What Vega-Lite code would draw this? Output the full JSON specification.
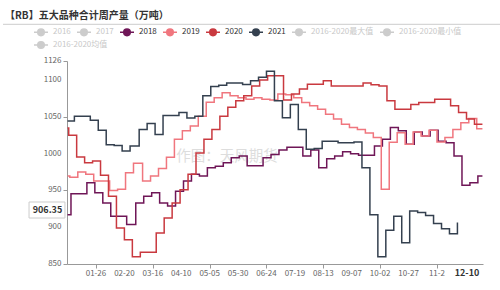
{
  "$schema": "https://vega.github.io/schema/vega-lite/v6.json",
  "width": 416,
  "height": 203,
  "autosize": {"type": "none"},
  "padding": {"left": 67, "top": 61, "right": 17, "bottom": 26},
  "background": "white",
  "title": {
    "text": "【RB】五大品种合计周产量（万吨）",
    "anchor": "start",
    "frame": "group",
    "dx": -62,
    "dy": -2.5,
    "offset": 0,
    "fontSize": 10,
    "fontWeight": "bold",
    "color": "#333",
    "font": "Noto Sans CJK SC"
  },
  "config": {
    "view": {"stroke": null},
    "font": "Noto Sans CJK SC",
    "axis": {"labelOverlap": false}
  },
  "resolve": {"scale": {"color": "independent"}},
  "datasets": {
    "prod": [
      {"s":"2018","d":0,"v":917},{"s":"2018","d":3,"v":945.5},{"s":"2018","d":10,"v":945.5},{"s":"2018","d":17,"v":960.5},{"s":"2018","d":24,"v":947},{"s":"2018","d":31,"v":933},{"s":"2018","d":38,"v":915},{"s":"2018","d":45,"v":915},{"s":"2018","d":52,"v":903.6},{"s":"2018","d":60,"v":933},{"s":"2018","d":67,"v":942},{"s":"2018","d":74,"v":947},{"s":"2018","d":81,"v":933},{"s":"2018","d":88,"v":929},{"s":"2018","d":95,"v":949},{"s":"2018","d":102,"v":962.7},{"s":"2018","d":109,"v":972},{"s":"2018","d":116,"v":969.5},{"s":"2018","d":123,"v":981},{"s":"2018","d":130,"v":983},{"s":"2018","d":137,"v":987.7},{"s":"2018","d":144,"v":994.5},{"s":"2018","d":151,"v":997},{"s":"2018","d":158,"v":983.5},{"s":"2018","d":165,"v":983.5},{"s":"2018","d":172,"v":994.5},{"s":"2018","d":179,"v":999},{"s":"2018","d":186,"v":1005},{"s":"2018","d":193,"v":1008.6},{"s":"2018","d":200,"v":1008.6},{"s":"2018","d":207,"v":997},{"s":"2018","d":214,"v":1005},{"s":"2018","d":221,"v":981},{"s":"2018","d":228,"v":993},{"s":"2018","d":235,"v":997},{"s":"2018","d":242,"v":1002.6},{"s":"2018","d":249,"v":1000},{"s":"2018","d":256,"v":998},{"s":"2018","d":263,"v":998},{"s":"2018","d":270,"v":1010.5},{"s":"2018","d":277,"v":1019.5},{"s":"2018","d":284,"v":1035.5},{"s":"2018","d":291,"v":1031},{"s":"2018","d":298,"v":1012.7},{"s":"2018","d":305,"v":1029.5},{"s":"2018","d":312,"v":1024},{"s":"2018","d":319,"v":1032},{"s":"2018","d":326,"v":1017},{"s":"2018","d":333,"v":1015},{"s":"2018","d":340,"v":997},{"s":"2018","d":347,"v":957},{"s":"2018","d":354,"v":960.5},{"s":"2018","d":361,"v":969.5},{"s":"2018","d":365,"v":969.5},
      {"s":"2019","d":0,"v":969.5},{"s":"2019","d":2,"v":968},{"s":"2019","d":9,"v":975},{"s":"2019","d":16,"v":972},{"s":"2019","d":23,"v":963},{"s":"2019","d":30,"v":963},{"s":"2019","d":37,"v":950},{"s":"2019","d":44,"v":951.8},{"s":"2019","d":51,"v":974},{"s":"2019","d":58,"v":987},{"s":"2019","d":66,"v":963},{"s":"2019","d":73,"v":969.5},{"s":"2019","d":80,"v":980},{"s":"2019","d":87,"v":995},{"s":"2019","d":94,"v":1019.5},{"s":"2019","d":101,"v":1031},{"s":"2019","d":108,"v":1037.7},{"s":"2019","d":115,"v":1051},{"s":"2019","d":122,"v":1070},{"s":"2019","d":129,"v":1076},{"s":"2019","d":136,"v":1083},{"s":"2019","d":143,"v":1078.6},{"s":"2019","d":150,"v":1076},{"s":"2019","d":157,"v":1074},{"s":"2019","d":164,"v":1076},{"s":"2019","d":171,"v":1074},{"s":"2019","d":178,"v":1073},{"s":"2019","d":185,"v":1081},{"s":"2019","d":192,"v":1080},{"s":"2019","d":199,"v":1076},{"s":"2019","d":206,"v":1069.5},{"s":"2019","d":213,"v":1065},{"s":"2019","d":220,"v":1060.5},{"s":"2019","d":227,"v":1053.6},{"s":"2019","d":234,"v":1047},{"s":"2019","d":241,"v":1040},{"s":"2019","d":248,"v":1035.5},{"s":"2019","d":255,"v":1033},{"s":"2019","d":262,"v":1028},{"s":"2019","d":269,"v":1022},{"s":"2019","d":276,"v":951.8},{"s":"2019","d":283,"v":1015.6},{"s":"2019","d":290,"v":1028.6},{"s":"2019","d":297,"v":1012.7},{"s":"2019","d":304,"v":1029.5},{"s":"2019","d":311,"v":1024},{"s":"2019","d":318,"v":1032},{"s":"2019","d":325,"v":1016},{"s":"2019","d":332,"v":1022},{"s":"2019","d":339,"v":1033},{"s":"2019","d":346,"v":1042},{"s":"2019","d":353,"v":1047.7},{"s":"2019","d":360,"v":1034},{"s":"2019","d":365,"v":1034},
      {"s":"2020","d":0,"v":1035},{"s":"2020","d":1,"v":1025},{"s":"2020","d":8,"v":995.5},{"s":"2020","d":15,"v":987.7},{"s":"2020","d":22,"v":990},{"s":"2020","d":29,"v":970.5},{"s":"2020","d":36,"v":942},{"s":"2020","d":43,"v":899},{"s":"2020","d":50,"v":883},{"s":"2020","d":57,"v":860},{"s":"2020","d":64,"v":866},{"s":"2020","d":71,"v":866},{"s":"2020","d":78,"v":892},{"s":"2020","d":85,"v":912.7},{"s":"2020","d":92,"v":933},{"s":"2020","d":99,"v":951},{"s":"2020","d":106,"v":972},{"s":"2020","d":113,"v":1001},{"s":"2020","d":120,"v":1019.5},{"s":"2020","d":127,"v":1033},{"s":"2020","d":134,"v":1051},{"s":"2020","d":141,"v":1063},{"s":"2020","d":148,"v":1072},{"s":"2020","d":155,"v":1078.6},{"s":"2020","d":162,"v":1092},{"s":"2020","d":169,"v":1100},{"s":"2020","d":176,"v":1106},{"s":"2020","d":183,"v":1106},{"s":"2020","d":190,"v":1073},{"s":"2020","d":197,"v":1081},{"s":"2020","d":204,"v":1088},{"s":"2020","d":211,"v":1094.5},{"s":"2020","d":218,"v":1094.5},{"s":"2020","d":225,"v":1099},{"s":"2020","d":232,"v":1092},{"s":"2020","d":239,"v":1092},{"s":"2020","d":246,"v":1092},{"s":"2020","d":253,"v":1092},{"s":"2020","d":260,"v":1096},{"s":"2020","d":267,"v":1093.6},{"s":"2020","d":274,"v":1092},{"s":"2020","d":281,"v":1072},{"s":"2020","d":288,"v":1060.5},{"s":"2020","d":295,"v":1060.5},{"s":"2020","d":302,"v":1067},{"s":"2020","d":309,"v":1069.5},{"s":"2020","d":316,"v":1069.5},{"s":"2020","d":323,"v":1074},{"s":"2020","d":330,"v":1074},{"s":"2020","d":337,"v":1065},{"s":"2020","d":344,"v":1056},{"s":"2020","d":351,"v":1047},{"s":"2020","d":358,"v":1040},{"s":"2020","d":365,"v":1040},
      {"s":"2021","d":0,"v":1044.5},{"s":"2021","d":6,"v":1051},{"s":"2021","d":13,"v":1051},{"s":"2021","d":20,"v":1045.5},{"s":"2021","d":27,"v":1032},{"s":"2021","d":34,"v":1012},{"s":"2021","d":41,"v":1011},{"s":"2021","d":48,"v":1003.6},{"s":"2021","d":55,"v":1010.5},{"s":"2021","d":63,"v":1033},{"s":"2021","d":70,"v":1041},{"s":"2021","d":77,"v":1026},{"s":"2021","d":84,"v":1052},{"s":"2021","d":91,"v":1052},{"s":"2021","d":98,"v":1056},{"s":"2021","d":105,"v":1048.6},{"s":"2021","d":112,"v":1051},{"s":"2021","d":119,"v":1078.6},{"s":"2021","d":126,"v":1091.4},{"s":"2021","d":133,"v":1093},{"s":"2021","d":140,"v":1096},{"s":"2021","d":147,"v":1096},{"s":"2021","d":154,"v":1094},{"s":"2021","d":161,"v":1099},{"s":"2021","d":168,"v":1104},{"s":"2021","d":175,"v":1112},{"s":"2021","d":182,"v":1072},{"s":"2021","d":189,"v":1049},{"s":"2021","d":196,"v":1067},{"s":"2021","d":203,"v":1033},{"s":"2021","d":210,"v":1006},{"s":"2021","d":217,"v":1007},{"s":"2021","d":224,"v":1017},{"s":"2021","d":231,"v":1017},{"s":"2021","d":238,"v":1015},{"s":"2021","d":245,"v":1015},{"s":"2021","d":252,"v":1016},{"s":"2021","d":259,"v":981},{"s":"2021","d":266,"v":917},{"s":"2021","d":273,"v":860},{"s":"2021","d":280,"v":896},{"s":"2021","d":287,"v":915},{"s":"2021","d":294,"v":879},{"s":"2021","d":301,"v":922},{"s":"2021","d":308,"v":920},{"s":"2021","d":315,"v":916},{"s":"2021","d":322,"v":905},{"s":"2021","d":329,"v":898},{"s":"2021","d":336,"v":891},{"s":"2021","d":343,"v":906.35}
    ],
    "xticks": [
      {"d":25,"t":"01-26"},{"d":50,"t":"02-20"},{"d":75,"t":"03-16"},{"d":100,"t":"04-10"},{"d":125,"t":"05-05"},{"d":150,"t":"05-30"},{"d":175,"t":"06-24"},{"d":200,"t":"07-19"},{"d":225,"t":"08-13"},{"d":250,"t":"09-07"},{"d":275,"t":"10-02"},{"d":300,"t":"10-27"},{"d":325,"t":"11-2"}
    ],
    "yticks": [
      {"v":850},{"v":900},{"v":950},{"v":1000},{"v":1050},{"v":1100},{"v":1126}
    ]
  },
  "layer": [
    {
      "data": {"values": [{}]},
      "mark": {"type": "text", "fontSize": 14.5, "color": "#dddddd", "align": "center", "baseline": "middle"},
      "encoding": {
        "x": {"datum": 140.3, "type": "quantitative"},
        "y": {"datum": 994.8, "type": "quantitative"},
        "text": {"value": "作图：天风期货"}
      }
    },
    {
      "data": {"values": [{}]},
      "mark": {"type": "rule", "color": "#cccccc", "strokeWidth": 1},
      "encoding": {
        "x": {"datum": -56.8, "type": "quantitative"},
        "x2": {"datum": 380.5},
        "y": {"datum": 1175.9, "type": "quantitative"}
      }
    },
    {
      "data": {"name": "prod"},
      "mark": {"type": "line", "interpolate": "step-after", "strokeWidth": 1.5},
      "encoding": {
        "x": {
          "field": "d", "type": "quantitative",
          "scale": {"domain": [-0.5, 365.5], "nice": false, "zero": false},
          "axis": {
            "title": null,
            "values": [25, 50, 75, 100, 125, 150, 175, 200, 225, 250, 275, 300, 325],
            "labels": false,
            "grid": false,
            "domainColor": "#999",
            "tickColor": "#999",
            "tickSize": 4
          }
        },
        "y": {
          "field": "v", "type": "quantitative",
          "scale": {"domain": [850, 1126], "nice": false, "zero": false},
          "axis": {
            "title": null,
            "values": [850, 900, 950, 1000, 1050, 1100, 1126],
            "labels": false,
            "domainColor": "#999",
            "tickColor": "#999",
            "tickSize": 4,
            "gridColor": "#eeeeee"
          }
        },
        "color": {
          "field": "s", "type": "nominal",
          "scale": {
            "domain": ["2016", "2017", "2018", "2019", "2020", "2021", "2016-2020最大值", "2016-2020最小值"],
            "range": ["#cccccc", "#cccccc", "#6f1657", "#f0767e", "#c9393f", "#34404f", "#cccccc", "#cccccc"]
          },
          "legend": {
            "title": null,
            "orient": "none",
            "legendX": -34,
            "legendY": -37,
            "direction": "horizontal",
            "columns": 8,
            "columnPadding": 3,
            "symbolType": "M-1,0L-0.47,0M0.47,0L1,0M0.47,0A0.47,0.47,0,1,1,-0.47,0A0.47,0.47,0,1,1,0.47,0",
            "symbolSize": 196,
            "symbolStrokeWidth": 1.5,
            "labelFontSize": 8,
            "labelOffset": 4,
            "labelLimit": 200,
            "encode": {
              "symbols": {"update": {"fill": {"signal": "datum.value=='2018'?'#6f1657':datum.value=='2019'?'#f0767e':datum.value=='2020'?'#c9393f':datum.value=='2021'?'#34404f':'#cccccc'"}}},
              "labels": {"update": {"fill": {"signal": "indexof(['2018','2019','2020','2021'], datum.value) >= 0 ? '#333333' : '#c8c8c8'"}}}
            }
          }
        }
      }
    },
    {
      "data": {"values": []},
      "mark": {"type": "line", "strokeWidth": 1.5},
      "encoding": {
        "x": {"field": "d", "type": "quantitative"},
        "y": {"field": "v", "type": "quantitative"},
        "color": {
          "field": "s", "type": "nominal",
          "scale": {"domain": ["2016-2020均值"], "range": ["#cccccc"]},
          "legend": {
            "title": null,
            "orient": "none",
            "legendX": -34,
            "legendY": -24,
            "symbolType": "M-1,0L-0.47,0M0.47,0L1,0M0.47,0A0.47,0.47,0,1,1,-0.47,0A0.47,0.47,0,1,1,0.47,0",
            "symbolSize": 196,
            "symbolStrokeWidth": 1.5,
            "symbolFillColor": "#cccccc",
            "labelFontSize": 8,
            "labelOffset": 4,
            "labelColor": "#c8c8c8",
            "labelLimit": 200
          }
        }
      }
    },
    {
      "data": {"name": "xticks"},
      "mark": {"type": "text", "fontSize": 8, "color": "#666666", "align": "center", "baseline": "middle", "dy": 9.5},
      "encoding": {
        "x": {"field": "d", "type": "quantitative"},
        "y": {"datum": 850, "type": "quantitative"},
        "text": {"field": "t"}
      }
    },
    {
      "data": {"name": "yticks"},
      "mark": {"type": "text", "fontSize": 8, "color": "#666666", "align": "right", "baseline": "middle", "dx": -5.5},
      "encoding": {
        "x": {"datum": -0.5, "type": "quantitative"},
        "y": {"field": "v", "type": "quantitative"},
        "text": {"field": "v", "format": "d"}
      }
    },
    {
      "data": {"values": [{}]},
      "mark": {"type": "rect", "fill": "white", "stroke": "#cccccc", "strokeWidth": 1},
      "encoding": {
        "x": {"datum": -33.9, "type": "quantitative"},
        "x2": {"datum": -2.3},
        "y": {"datum": 934.3, "type": "quantitative"},
        "y2": {"datum": 912.5}
      }
    },
    {
      "data": {"values": [{}]},
      "mark": {"type": "text", "fontSize": 9, "fontWeight": "bold", "color": "#333333", "align": "center", "baseline": "middle"},
      "encoding": {
        "x": {"datum": -17.7, "type": "quantitative"},
        "y": {"datum": 923.4, "type": "quantitative"},
        "text": {"value": "906.35"}
      }
    },
    {
      "data": {"values": [{}]},
      "mark": {"type": "text", "fontSize": 9, "fontWeight": "bold", "color": "#333333", "align": "center", "baseline": "middle"},
      "encoding": {
        "x": {"datum": 351.4, "type": "quantitative"},
        "y": {"datum": 837.8, "type": "quantitative"},
        "text": {"value": "12-10"}
      }
    }
  ]
}
